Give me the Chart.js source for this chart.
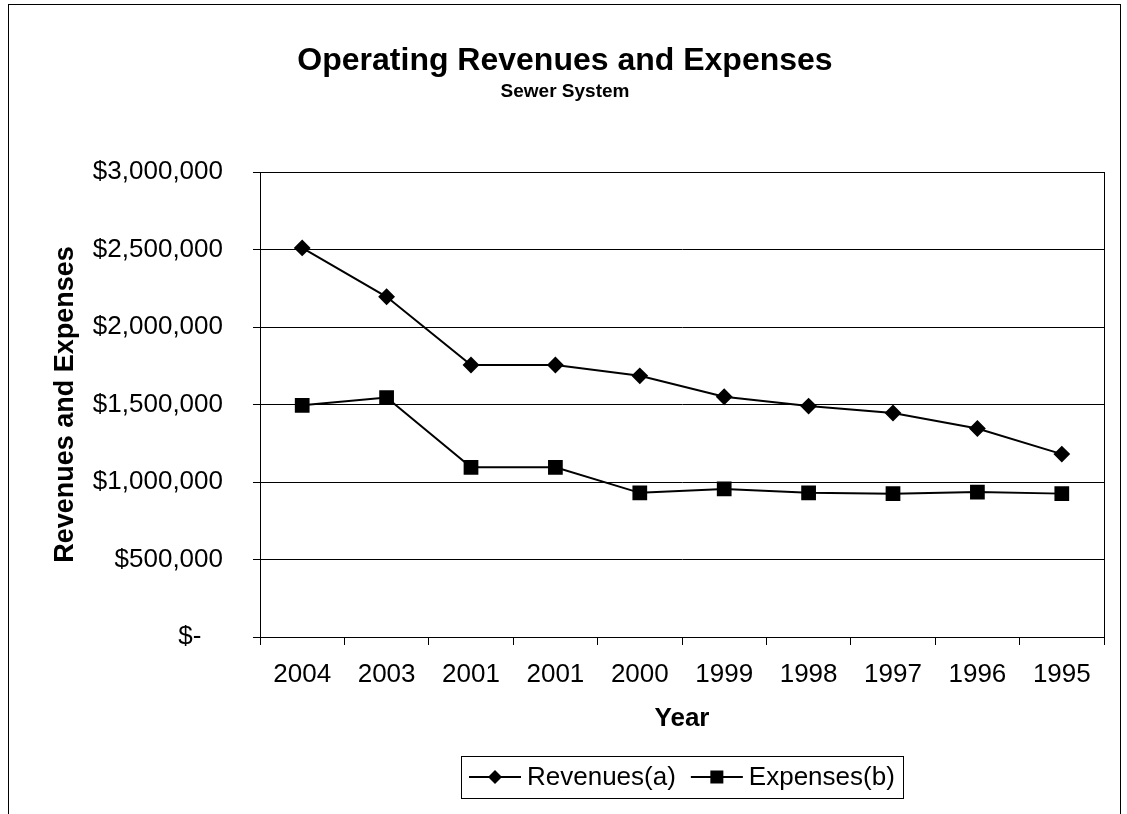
<!DOCTYPE html>
<html>
<head>
<meta charset="utf-8">
<script src="https://cdn.jsdelivr.net/npm/chart.js@4/dist/chart.umd.min.js"></script>
<style>
  html, body { margin: 0; padding: 0; background: #ffffff; }
  #wrap { position: relative; width: 1127px; height: 814px; overflow: hidden; }
  #frame { position: absolute; left: 8px; top: 4px; width: 1113px; height: 840px; border: 1px solid #000; box-sizing: border-box; }
  canvas { position: absolute; left: 0; top: 0; }
</style>
</head>
<body>
<div id="wrap">
  <div id="frame"></div>
  <canvas id="c" width="1127" height="814"></canvas>
</div>
<script>
const categories = ['2004', '2003', '2001', '2001', '2000', '1999', '1998', '1997', '1996', '1995'];
const revenues = [2510000, 2195000, 1755000, 1755000, 1685000, 1550000, 1490000, 1445000, 1345000, 1180000];
const expenses = [1495000, 1545000, 1095000, 1095000, 930000, 955000, 930000, 925000, 935000, 925000];
const yTicks = [0, 500000, 1000000, 1500000, 2000000, 2500000, 3000000];
const seriesNames = ['Revenues(a)', 'Expenses(b)'];
const titleText = 'Operating Revenues and Expenses';
const subtitleText = 'Sewer System';

const FONT = '"Liberation Sans", Arial, Helvetica, sans-serif';

function fmtMoney(v) {
  if (v === 0) return '$-' + ' '.repeat(3);
  return '$' + v.toLocaleString('en-US');
}

const titles = {
  id: 'titles',
  afterDraw(chart) {
    const ctx = chart.ctx;
    ctx.save();
    ctx.fillStyle = '#000';
    ctx.textAlign = 'center';
    ctx.textBaseline = 'middle';
    ctx.font = 'bold 32px ' + FONT;
    ctx.fillText(titleText, 565, 61);
    ctx.font = 'bold 19px ' + FONT;
    ctx.fillText(subtitleText, 565, 92);
    ctx.restore();
  }
};

const frameBox = {
  id: 'frameBox',
  afterDatasetsDraw(chart) {
    const {ctx, chartArea: a} = chart;
    ctx.save();
    ctx.strokeStyle = '#000';
    ctx.lineWidth = 1;
    ctx.strokeRect(Math.round(a.left) + 0.5, Math.round(a.top) + 0.5, Math.round(a.right - a.left), Math.round(a.bottom - a.top));
    ctx.restore();
  }
};

const customLegend = {
  id: 'customLegend',
  afterDraw(chart) {
    const ctx = chart.ctx;
    const a = chart.chartArea;
    ctx.save();
    ctx.font = '26px ' + FONT;
    ctx.textBaseline = 'middle';
    const iconW = 52, gapIcon = 6, gapItem = 15, padX = 8;
    const ds = chart.data.datasets;
    const widths = ds.map(d => iconW + gapIcon + ctx.measureText(d.label).width);
    const total = widths.reduce((s, w) => s + w, 0) + gapItem * (ds.length - 1) + padX * 2;
    const cx = (a.left + a.right) / 2;
    const cy = 777;
    const h = 42;
    let x0 = Math.round(cx - total / 2);
    ctx.strokeStyle = '#000';
    ctx.lineWidth = 1;
    ctx.strokeRect(x0 + 0.5, Math.round(cy - h / 2) + 0.5, Math.round(total), h);
    let x = x0 + padX;
    ds.forEach((d, i) => {
      ctx.strokeStyle = '#000';
      ctx.lineWidth = 2;
      ctx.beginPath();
      ctx.moveTo(x, cy);
      ctx.lineTo(x + iconW, cy);
      ctx.stroke();
      const mx = x + iconW / 2;
      ctx.fillStyle = '#000';
      ctx.beginPath();
      if (d.pointStyle === 'rectRot') {
        const r = 7;
        ctx.moveTo(mx, cy - r); ctx.lineTo(mx + r, cy); ctx.lineTo(mx, cy + r); ctx.lineTo(mx - r, cy); ctx.closePath();
      } else {
        ctx.rect(mx - 6.5, cy - 6.5, 13, 13);
      }
      ctx.fill();
      ctx.fillStyle = '#000';
      ctx.textAlign = 'left';
      ctx.fillText(d.label, x + iconW + gapIcon, cy + 1);
      x += widths[i] + gapItem;
    });
    ctx.restore();
  }
};

new Chart(document.getElementById('c'), {
  type: 'line',
  data: {
    labels: categories,
    datasets: [
      {
        label: seriesNames[0],
        data: revenues,
        borderColor: '#000',
        backgroundColor: '#000',
        borderWidth: 2,
        pointStyle: 'rectRot',
        pointRadius: 7,
        pointHoverRadius: 7,
        pointBackgroundColor: '#000',
        pointBorderColor: '#000',
        tension: 0
      },
      {
        label: seriesNames[1],
        data: expenses,
        borderColor: '#000',
        backgroundColor: '#000',
        borderWidth: 2,
        pointStyle: 'rect',
        pointRadius: 9,
        pointHoverRadius: 9,
        pointBackgroundColor: '#000',
        pointBorderColor: '#000',
        tension: 0
      }
    ]
  },
  options: {
    responsive: false,
    animation: false,
    devicePixelRatio: 1,
    layout: { padding: { left: 10, right: 23, top: 172, bottom: 60 } },
    plugins: {
      legend: { display: false },
      tooltip: { enabled: false },
      title: { display: false },
      subtitle: { display: false }
    },
    scales: {
      x: {
        offset: true,
        grid: {
          offset: true,
          drawOnChartArea: false,
          drawTicks: true,
          tickLength: 8,
          color: '#000',
          tickColor: '#000'
        },
        border: { display: true, color: '#000', width: 1 },
        ticks: {
          color: '#000',
          font: { family: FONT, size: 26 },
          padding: 14,
          maxRotation: 0,
          autoSkip: false
        },
        title: {
          display: true,
          text: 'Year',
          color: '#000',
          font: { family: FONT, size: 26, weight: 'bold' },
          padding: { top: 0, bottom: 20 }
        },
        afterFit(scale) { scale.height = 117; }
      },
      y: {
        min: 0,
        max: 3000000,
        afterBuildTicks(scale) { scale.ticks = yTicks.map(v => ({ value: v })); },
        grid: {
          color: '#000',
          tickColor: '#000',
          lineWidth: 1,
          drawTicks: true,
          tickLength: 7
        },
        border: { display: true, color: '#000', width: 1 },
        ticks: {
          color: '#000',
          font: { family: FONT, size: 26 },
          padding: 30,
          callback: (v) => fmtMoney(v)
        },
        title: {
          display: true,
          text: 'Revenues and Expenses',
          color: '#000',
          font: { family: FONT, size: 27, weight: 'bold' },
          padding: { top: 39, bottom: 0 }
        },
        afterFit(scale) { scale.width = 250; }
      }
    }
  },
  plugins: [frameBox, customLegend, titles]
});
</script>
</body>
</html>
